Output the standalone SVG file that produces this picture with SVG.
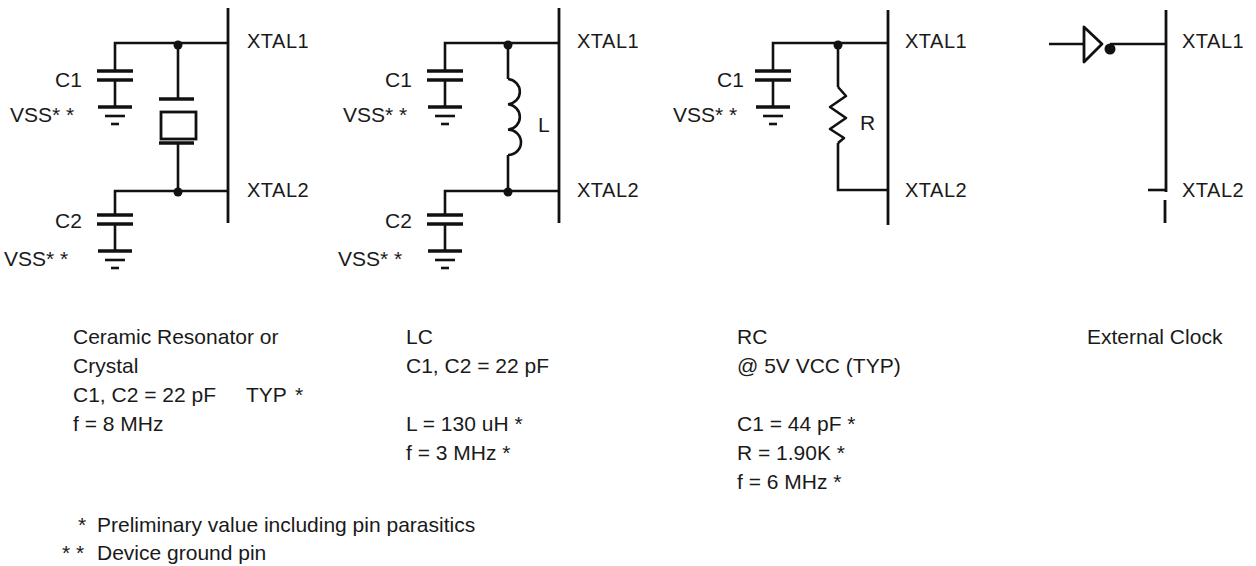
<svg xmlns="http://www.w3.org/2000/svg" xmlns:xlink="http://www.w3.org/1999/xlink" width="1256" height="566" viewBox="0 0 1256 566">
<style>
  .w { stroke: #111; stroke-width: 2.6; fill: none; stroke-linecap: butt; }
  .bar { stroke: #111; stroke-width: 2.8; fill: none; }
  .plate { stroke: #111; stroke-width: 3.4; fill: none; }
  .t { font-family: "Liberation Sans", Arial, sans-serif; font-size: 21px; fill: #1a1a1a; }
  .pin { font-family: "Liberation Sans", Arial, sans-serif; font-size: 20px; fill: #1a1a1a; letter-spacing: 0.5px; }
  .dot { fill: #111; }
</style>
<defs>
  <g id="capgnd">
    <line class="plate" x1="-18" y1="0" x2="18" y2="0"/>
    <line class="plate" x1="-18" y1="9" x2="18" y2="9"/>
    <line class="w" x1="0" y1="9" x2="0" y2="36"/>
    <line class="plate" x1="-17" y1="36" x2="17" y2="36"/>
    <line class="w" x1="-10" y1="45" x2="10" y2="45"/>
    <line class="w" x1="-4" y1="53" x2="4" y2="53"/>
  </g>
</defs>

<g id="connectors">
  <!-- panel 1 -->
  <polyline class="w" points="115,71 115,43 228,43"/>
  <polyline class="w" points="115,215 115,191 228,191"/>
  <line class="w" x1="178" y1="43" x2="178" y2="99"/>
  <line class="w" x1="178" y1="143" x2="178" y2="191"/>
  <!-- panel 2 -->
  <polyline class="w" points="445,71 445,43 559,43"/>
  <polyline class="w" points="445,215 445,191 559,191"/>
  <line class="w" x1="508" y1="43" x2="508" y2="79"/>
  <line class="w" x1="508" y1="155" x2="508" y2="191"/>
  <!-- panel 3 -->
  <polyline class="w" points="773,71 773,43 888,43"/>
  <line class="w" x1="838" y1="43" x2="838" y2="87"/>
  <polyline class="w" points="838,143 838,190 888,190"/>
  <!-- panel 4 -->
  <line class="w" x1="1049" y1="44" x2="1084" y2="44"/>
  <line class="w" x1="1110" y1="44" x2="1166" y2="44"/>
  <line class="w" x1="1148" y1="190" x2="1166" y2="190"/>
</g>

<g id="panel1">
  <line class="bar" x1="228" y1="8" x2="228" y2="223"/>
  <text class="pin" x="247" y="48">XTAL1</text>
  <text class="pin" x="247" y="197">XTAL2</text>
  <circle class="dot" cx="178" cy="45" r="4.5"/>
  <circle class="dot" cx="178" cy="192" r="4.5"/>
  <line class="plate" x1="159" y1="99" x2="194" y2="99"/>
  <rect x="161" y="112" width="35" height="27" fill="none" stroke="#111" stroke-width="2.8"/>
  <line class="plate" x1="159" y1="143" x2="194" y2="143"/>
  <use xlink:href="#capgnd" x="115" y="71"/>
  <use xlink:href="#capgnd" x="115" y="215"/>
  <text class="t" x="55" y="87">C1</text>
  <text class="t" x="10" y="122">VSS* *</text>
  <text class="t" x="55" y="228">C2</text>
  <text class="t" x="4" y="266">VSS* *</text>
</g>

<g id="panel2">
  <line class="bar" x1="559" y1="8" x2="559" y2="223"/>
  <text class="pin" x="577" y="48">XTAL1</text>
  <text class="pin" x="577" y="197">XTAL2</text>
  <circle class="dot" cx="508" cy="45" r="4.5"/>
  <circle class="dot" cx="508" cy="192" r="4.5"/>
  <path class="w" d="M508,79 a13,12.7 0 0 1 0,25.3 a13,12.7 0 0 1 0,25.3 a13,12.7 0 0 1 0,25.4"/>
  <text class="t" x="538" y="132">L</text>
  <use xlink:href="#capgnd" x="445" y="71"/>
  <use xlink:href="#capgnd" x="445" y="215"/>
  <text class="t" x="385" y="87">C1</text>
  <text class="t" x="343" y="122">VSS* *</text>
  <text class="t" x="385" y="228">C2</text>
  <text class="t" x="338" y="266">VSS* *</text>
</g>

<g id="panel3">
  <line class="bar" x1="888" y1="10" x2="888" y2="225"/>
  <text class="pin" x="905" y="48">XTAL1</text>
  <text class="pin" x="905" y="197">XTAL2</text>
  <circle class="dot" cx="838" cy="45" r="4.5"/>
  <polyline class="w" stroke-linejoin="round" points="838,87 846,96 830,107 846,118 830,129 844,138 838,143"/>
  <text class="t" x="860" y="130">R</text>
  <use xlink:href="#capgnd" x="773" y="71"/>
  <text class="t" x="717" y="87">C1</text>
  <text class="t" x="673" y="122">VSS* *</text>
</g>

<g id="panel4">
  <line class="bar" x1="1166" y1="10" x2="1166" y2="192"/>
  <line class="bar" x1="1165" y1="200" x2="1165" y2="223"/>
  <polygon points="1084,27 1102,44 1084,62" fill="none" stroke="#111" stroke-width="2.8" stroke-linejoin="round"/>
  <circle class="dot" cx="1110" cy="49" r="5.5"/>
  <text class="pin" x="1182" y="48">XTAL1</text>
  <text class="pin" x="1182" y="197">XTAL2</text>
</g>

<g id="notes">
  <text class="t" x="73" y="344">Ceramic Resonator or</text>
  <text class="t" x="73" y="373">Crystal</text>
  <text class="t" x="73" y="402">C1, C2 = 22 pF<tspan x="246">TYP</tspan><tspan x="295">*</tspan></text>
  <text class="t" x="73" y="431">f = 8 MHz</text>

  <text class="t" x="406" y="344">LC</text>
  <text class="t" x="406" y="373">C1, C2 = 22 pF</text>
  <text class="t" x="406" y="431">L = 130 uH *</text>
  <text class="t" x="406" y="460">f = 3 MHz *</text>

  <text class="t" x="737" y="344">RC</text>
  <text class="t" x="737" y="373">@ 5V VCC (TYP)</text>
  <text class="t" x="737" y="431">C1 = 44 pF *</text>
  <text class="t" x="737" y="460">R = 1.90K *</text>
  <text class="t" x="737" y="489">f = 6 MHz *</text>

  <text class="t" x="1087" y="344">External Clock</text>

  <text class="t" x="78" y="532">*</text>
  <text class="t" x="97" y="532">Preliminary value including pin parasitics</text>
  <text class="t" x="62" y="560">* *</text>
  <text class="t" x="97" y="560">Device ground pin</text>
</g>
</svg>
